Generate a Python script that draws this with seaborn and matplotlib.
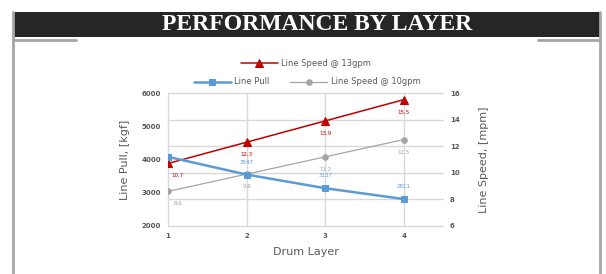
import matplotlib.pyplot as plt
import numpy as np
import pandas as pd
import seaborn as sns
from matplotlib.lines import Line2D
from matplotlib.patches import Rectangle

sns.set_style("white")

layers = [1, 2, 3, 4]
line_pull = [4080, 3547, 3137, 2811]
speed_13 = [10.7, 12.3, 13.9, 15.5]
speed_10 = [8.6, 9.9, 11.2, 12.5]

df = pd.DataFrame({
    "layer": layers,
    "pull": line_pull,
    "s13": speed_13,
    "s10": speed_10,
})

BLUE = "#5B9BD5"
RED = "#C00000"
GRAY = "#A5A5A5"
TXT = "#595959"

fig = plt.figure(figsize=(6.06, 2.74), dpi=100)
ax = fig.add_axes([168 / 606, 1 - 226 / 274, 275 / 606, 133 / 274])
ax2 = ax.twinx()

# banner + frame
fig.add_artist(Rectangle((13 / 606, 1 - 37 / 274), 587 / 606, 25 / 274,
                         transform=fig.transFigure, color="#262626", lw=0))
fig.text(317 / 606, 1 - 24.5 / 274, "PERFORMANCE BY LAYER", color="white",
         family="Liberation Serif", weight="bold", fontsize=17,
         ha="center", va="center")
for xs, ys in [([13, 13], [12, 274]), ([600, 600], [12, 274]),
               ([13, 76], [39.5, 39.5]), ([538, 600], [39.5, 39.5])]:
    fig.add_artist(Line2D([x / 606 for x in xs], [1 - y / 274 for y in ys],
                          transform=fig.transFigure, color="#A6A6A6", lw=2))

# series
sns.lineplot(data=df, x="layer", y="pull", ax=ax, color=BLUE, lw=1.8,
             marker="s", markersize=4.5, markeredgecolor=BLUE, label="Line Pull",
             legend=False)
sns.lineplot(data=df, x="layer", y="s13", ax=ax2, color=RED, lw=1.1,
             marker="^", markersize=5.5, markeredgecolor=RED,
             label="Line Speed @ 13gpm", legend=False)
sns.lineplot(data=df, x="layer", y="s10", ax=ax2, color=GRAY, lw=0.9,
             marker="o", markersize=4, markeredgecolor=GRAY,
             label="Line Speed @ 10gpm", legend=False)

ax.set_zorder(ax2.get_zorder() + 1)
ax.patch.set_visible(False)

ax.set_xlim(1, 4.5)
ax.set_ylim(2000, 6000)
ax2.set_ylim(6, 16)
ax.set_xticks(layers)
ax.set_yticks(np.arange(2000, 6001, 1000))
ax2.set_yticks(np.arange(6, 17, 2))

# gridlines live on the lower (right-hand) axes so the blue line sits above them
ax.grid(False)
ax2.xaxis.set_visible(True)
ax2.set_xticks(layers)
ax2.tick_params(axis="x", labelbottom=False, labeltop=False)
ax2.grid(True, axis="both", color="#D9D9D9", lw=1)
for gl in ax2.get_xgridlines() + ax2.get_ygridlines():
    gl.set_clip_on(False)
for a in (ax, ax2):
    for s in a.spines.values():
        s.set_visible(False)
    a.tick_params(length=0, labelsize=5, labelcolor=TXT, pad=5)
    for t in a.get_xticklabels() + a.get_yticklabels():
        t.set_fontweight("bold")
ax2.set_xlabel("")

ax.set_xlabel("Drum Layer", fontsize=8, color=TXT, labelpad=6)
ax.set_ylabel("Line Pull, [kgf]", fontsize=8, color=TXT, labelpad=8)
ax2.set_ylabel("Line Speed, [mpm]", fontsize=8, color=TXT, labelpad=14)

# data labels
for i, (x, v) in enumerate(zip(layers, line_pull)):
    if i == 0:
        continue
    ax.annotate(f"{v}", (x, v), xytext=(0, 7), textcoords="offset points",
                ha="center", va="bottom", fontsize=4, color=BLUE)
for vals, col in [(speed_13, RED), (speed_10, GRAY)]:
    for i, (x, v) in enumerate(zip(layers, vals)):
        dx = 7 if i == 0 else 0
        ax2.annotate(f"{v}".replace(".", ","), (x, v), xytext=(dx, -7),
                     textcoords="offset points", ha="center", va="top",
                     fontsize=4, color=col)

# legend
h = {l.get_label(): l for l in ax.get_lines() + ax2.get_lines()}
kw = dict(frameon=False, fontsize=6, handlelength=4.5, handletextpad=0.4,
          labelcolor=TXT, loc="center")
fig.legend(handles=[h["Line Speed @ 13gpm"]], bbox_to_anchor=(306 / 606, 1 - 63 / 274), **kw)
fig.legend(handles=[h["Line Pull"], h["Line Speed @ 10gpm"]], ncol=2,
           columnspacing=2.4, bbox_to_anchor=(307 / 606, 1 - 82 / 274), **kw)

fig.savefig("out.png", dpi=100)
